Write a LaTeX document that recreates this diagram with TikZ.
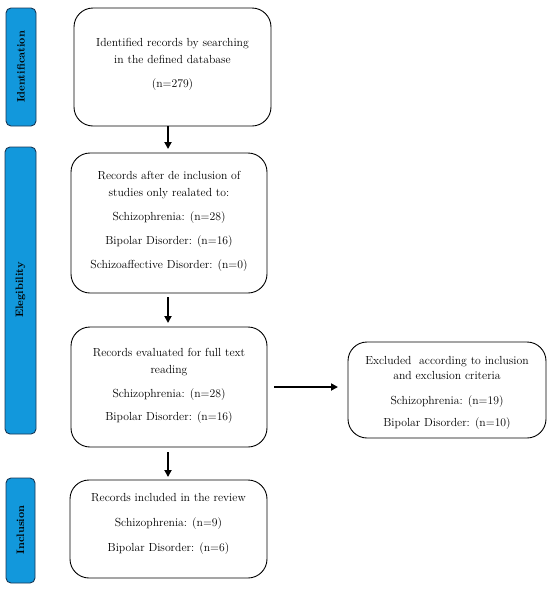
\documentclass[tikz,border=0pt]{standalone}
\usetikzlibrary{arrows.meta,calc}
\definecolor{barblue}{RGB}{18,152,220}
\definecolor{bardark}{RGB}{25,55,85}
\begin{document}
\begin{tikzpicture}[x=1pt,y=-1pt,
  bar/.style={draw=bardark,line width=0.9pt,fill=barblue,rounded corners=5pt},
  box/.style={draw=black,line width=0.9pt,rounded corners=19pt},
  barlabel/.style={rotate=90,font=\fontsize{10.8}{12}\selectfont\bfseries,text=black},
  txt/.style={align=center,inner sep=0pt,anchor=north,font=\fontsize{11.7}{16.8}\selectfont},
  arr/.style={-{Triangle[length=7pt,width=7pt]},line width=1.8pt}]
\useasboundingbox (0,0) rectangle (550,590);
% side bars
\draw[bar] (6,8) rectangle (36,126);
\draw[bar] (5,147) rectangle (36,434);
\draw[bar] (6,478) rectangle (35,583);
\node[barlabel] (lid) at (21,67) {Identification};
\node[barlabel] (lel) at (20.5,290) {Elegibility};
\node[barlabel] (lin) at (20.5,530) {Inclusion};
% boxes
\draw[box] (74,8) rectangle (271,126);
\draw[box] (71,153) rectangle (267,293);
\draw[box] (71,327) rectangle (267,447);
\draw[box] (70,480) rectangle (267,578);
\draw[box] (348,342) rectangle (546,438);
\coordinate (b1s) at (168,126);
\coordinate (b2n) at (168,153);
\coordinate (b2s) at (168,293);
\coordinate (b3n) at (168,327);
\coordinate (b3s) at (168,447);
\coordinate (b4n) at (168,480);
\coordinate (b3e) at (267,387);
\coordinate (b5w) at (348,387);
% texts
\node[txt] (t1) at (172.5,38.5) {Identified records by searching\\in the defined database\\[7pt](n=279)};
\node[txt] (t2) at (169,171) {Records after de inclusion of\\studies only realated to:\\[7pt]Schizophrenia: (n=28)\\[7.5pt]Bipolar Disorder: (n=16)\\[7.5pt]Schizoaffective Disorder: (n=0)};
\node[txt] (t3) at (169,348) {Records evaluated for full text\\reading\\[7.5pt]Schizophrenia: (n=28)\\[6pt]Bipolar Disorder: (n=16)};
\node[txt] (t4) at (168.5,493) {Records included in the review\\[8.5pt]Schizophrenia: (n=9)\\[8pt]Bipolar Disorder: (n=6)};
\node[txt] (t5) at (447,356) {Excluded\ \ according to inclusion\\[-1.5pt]and exclusion criteria\\[8pt]Schizophrenia: (n=19)\\[5.5pt]Bipolar Disorder: (n=10)};
% arrows
\draw[arr] (b1s) -- ($(b2n)+(0,-4)$);
\draw[arr] ($(b2s)+(0,4)$) -- ($(b3n)+(0,-4)$);
\draw[arr] ($(b3s)+(0,5)$) -- ($(b4n)+(0,-3)$);
\draw[arr] ($(b3e)+(7,0)$) -- ($(b5w)+(-10,0)$);
\end{tikzpicture}
\end{document}
